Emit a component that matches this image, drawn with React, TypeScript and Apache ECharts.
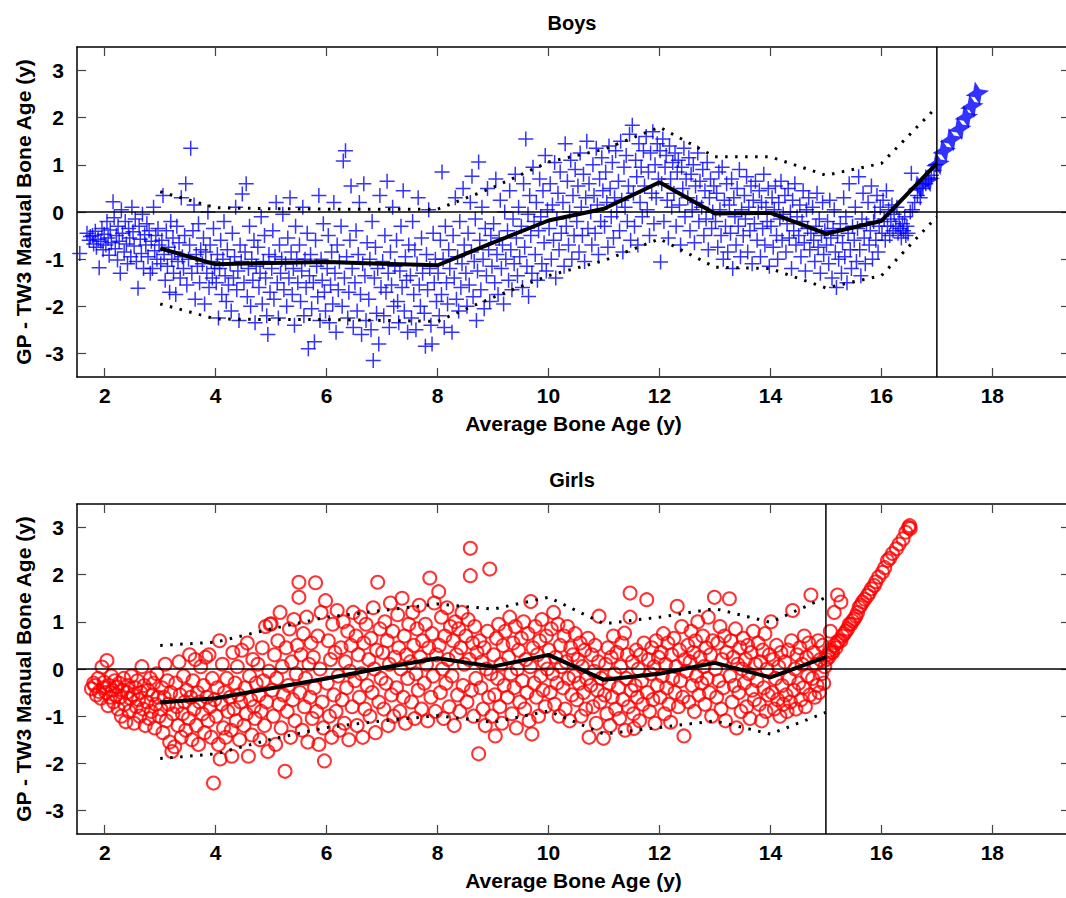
import React, { useEffect, useRef } from "react";
import * as echarts from "echarts";

const X_MIN = 1.5;
const X_MAX = 19.4;
const Y_MIN = -3.5;
const Y_MAX = 3.5;
const xTicks = [2, 4, 6, 8, 10, 12, 14, 16, 18];
const yTicks = [-3, -2, -1, 0, 1, 2, 3];

const panelTitles = ["Boys", "Girls"];
const xName = "Average Bone Age (y)";
const yName = "GP - TW3 Manual Bone Age (y)";

// reference lines
const boysCutoff = 17;
const girlsCutoff = 15;

// mean and bounds (boys)
const boysAges = [3, 4, 5, 6, 7, 8, 9, 10, 11, 12, 13, 14, 15, 16, 17];
const boysMean = [-0.77, -1.11, -1.08, -1.06, -1.1, -1.13, -0.65, -0.18, 0.07, 0.63, -0.03, -0.02, -0.46, -0.19, 1.03];
const boysUpper = [0.43, 0.09, 0.07, 0.06, 0.06, 0.06, 0.52, 1.06, 1.33, 1.8, 1.17, 1.17, 0.78, 1.03, 2.23];
const boysLower = [-1.95, -2.27, -2.28, -2.28, -2.3, -2.32, -1.81, -1.35, -1.03, -0.57, -1.17, -1.2, -1.61, -1.35, -0.1];

// mean and bounds (girls)
const girlsAges = [3, 4, 5, 6, 7, 8, 9, 10, 11, 12, 13, 14, 15];
const girlsMean = [-0.71, -0.62, -0.41, -0.2, 0.02, 0.23, 0.05, 0.3, -0.23, -0.1, 0.13, -0.18, 0.25];
const girlsUpper = [0.5, 0.57, 0.85, 1.1, 1.24, 1.38, 1.27, 1.52, 0.96, 1.1, 1.28, 0.99, 1.52];
const girlsLower = [-1.9, -1.8, -1.49, -1.24, -1.1, -0.99, -1.13, -0.89, -1.38, -1.24, -1.1, -1.38, -0.92];

const boysPts = [
  [1.55,-0.88],[1.68,-0.45],[1.72,-0.6],[1.74,-0.52],
  [1.78,-0.5],[1.8,-0.68],[1.83,-0.41],[1.85,-0.75],[1.88,-0.58],[1.9,-1.18],[1.93,-0.62],[1.95,-0.35],[1.97,-0.8],[1.99,-0.47],
  [2.02,-0.7],[2.04,-0.2],[2.06,-0.55],[2.08,-0.92],[2.1,-0.38],[2.12,-0.65],[2.15,0.22],[2.17,-0.12],[2.19,-0.78],[2.21,-0.5],[2.23,-1.02],[2.24,-0.3],
  [2.26,-0.62],[2.28,-1.3],[2.3,0.05],[2.32,-0.45],[2.35,-0.85],[2.37,-0.2],[2.39,-0.68],[2.41,-1.1],[2.43,-0.35],[2.45,-0.55],[2.47,-0.95],[2.49,0.1],
  [2.51,-0.42],[2.53,-0.72],[2.55,-0.15],[2.57,-1.05],[2.6,-1.62],[2.62,-0.3],[2.64,-0.58],[2.66,-0.88],[2.68,-0.05],[2.7,-1.2],[2.72,-0.48],[2.74,-0.7],
  [2.76,-0.25],[2.78,-0.95],[2.8,-0.4],[2.82,-1.3],[2.84,-0.62],[2.86,-1.2],[2.88,0.1],[2.9,-0.82],[2.92,-0.5],[2.94,-1.0],[2.96,-0.35],[2.98,-0.7],
  [3.01,-1.1],[3.03,-0.6],[3.05,0.35],[3.07,-0.9],[3.09,-1.45],[3.11,-0.4],[3.13,-1.15],[3.15,-0.75],[3.17,-1.7],[3.19,-0.2],[3.21,-1.0],[3.23,-0.55],[3.24,-1.3],
  [3.26,-0.85],[3.28,-1.75],[3.3,-0.3],[3.32,-1.05],[3.34,-0.65],[3.36,-1.4],[3.38,0.3],[3.4,-0.95],[3.42,-1.2],[3.44,-0.5],[3.46,0.6],[3.48,-1.55],
  [3.51,-1.0],[3.53,-0.7],[3.55,1.35],[3.57,-1.3],[3.59,-0.4],[3.61,0.15],[3.63,-1.85],[3.65,-0.9],[3.67,-1.15],[3.69,-0.25],[3.71,-1.5],[3.73,-0.8],
  [3.76,-1.1],[3.78,-0.55],[3.8,-1.95],[3.82,-0.85],[3.84,-1.3],[3.86,0.0],[3.88,-1.6],[3.9,-0.7],[3.92,-1.05],[3.94,-1.4],[3.96,-0.35],[3.98,-1.2],
  [4.01,-1.5],[4.03,-0.9],[4.05,-2.25],[4.07,-1.2],[4.09,-0.6],[4.11,-1.75],[4.13,-1.0],[4.15,-0.2],[4.17,-1.35],[4.19,-1.9],[4.21,-0.8],[4.23,-1.55],
  [4.26,-1.1],[4.28,-2.1],[4.3,-0.45],[4.32,-1.4],[4.34,-0.95],[4.36,0.1],[4.38,-1.65],[4.4,-1.25],[4.42,-2.3],[4.44,-0.7],[4.46,-1.05],[4.48,0.38],
  [4.51,-1.5],[4.53,-0.85],[4.55,0.6],[4.57,-1.8],[4.59,-1.2],[4.61,-0.3],[4.63,-2.0],[4.65,-1.0],[4.67,-1.45],[4.69,-0.6],[4.71,-2.35],[4.73,-1.15],
  [4.76,-0.75],[4.78,-1.6],[4.8,-1.3],[4.82,-0.1],[4.84,-1.95],[4.86,-1.05],[4.88,-0.5],[4.9,-1.4],[4.92,-2.2],[4.94,-2.6],[4.96,-0.9],[4.98,-1.7],
  [5.01,-1.2],[5.03,-0.4],[5.05,-1.85],[5.07,-0.95],[5.09,0.2],[5.11,-1.5],[5.13,-2.25],[5.15,-0.7],[5.17,-1.3],[5.19,-1.0],[5.21,-0.05],[5.23,-1.65],
  [5.26,-1.1],[5.28,-2.0],[5.3,-0.55],[5.32,-1.4],[5.34,0.3],[5.36,-0.85],[5.38,-1.75],[5.4,-1.2],[5.42,-2.4],[5.44,-0.3],[5.46,-1.0],[5.48,-1.5],
  [5.51,-0.7],[5.53,-1.9],[5.55,-1.25],[5.57,0.1],[5.59,-2.2],[5.61,-1.0],[5.63,-1.6],[5.65,-0.45],[5.67,-2.9],[5.69,-1.35],[5.71,-0.9],[5.73,-2.05],
  [5.76,-1.5],[5.78,-2.75],[5.8,-0.6],[5.82,-1.15],[5.84,-1.8],[5.86,0.35],[5.88,-2.3],[5.9,-1.0],[5.92,-1.45],[5.94,-0.25],[5.96,-1.7],[5.98,-2.1],
  [6.01,-1.2],[6.03,-0.5],[6.05,-2.35],[6.07,-1.55],[6.09,-0.85],[6.11,-1.95],[6.13,0.2],[6.15,-1.3],[6.17,-2.55],[6.19,-0.7],[6.21,-1.65],[6.23,-1.05],
  [6.26,-0.3],[6.28,-2.0],[6.3,1.08],[6.32,-1.4],[6.34,1.3],[6.36,-0.95],[6.38,-2.25],[6.4,-1.7],[6.42,-0.6],[6.44,0.55],[6.46,-1.2],[6.48,-2.45],
  [6.51,-1.5],[6.53,-0.4],[6.55,-2.1],[6.57,-0.9],[6.59,0.2],[6.61,-1.75],[6.63,-2.6],[6.65,-1.1],[6.67,0.6],[6.69,-1.35],[6.71,-2.3],[6.73,-0.65],
  [6.76,-1.85],[6.78,-1.0],[6.8,-2.5],[6.82,-0.2],[6.84,-3.15],[6.86,-1.4],[6.88,-0.75],[6.9,-2.15],[6.92,-1.2],[6.94,-2.8],[6.96,0.35],[6.98,-1.6],
  [7.01,-1.05],[7.03,-2.2],[7.05,-0.5],[7.07,-1.7],[7.09,0.65],[7.11,-1.3],[7.13,-2.45],[7.15,-0.85],[7.17,-1.55],[7.19,0.1],[7.21,-2.0],[7.23,-1.15],
  [7.26,-0.6],[7.28,-1.9],[7.3,-2.35],[7.32,-1.25],[7.34,-0.3],[7.36,-1.6],[7.38,0.45],[7.4,-2.1],[7.42,-0.95],[7.44,-1.45],[7.46,-2.55],[7.48,-0.7],
  [7.51,-1.35],[7.53,-2.25],[7.55,-0.2],[7.57,-1.75],[7.59,-0.8],[7.61,-2.5],[7.63,-1.1],[7.65,0.3],[7.67,-1.55],[7.69,-2.0],[7.71,-0.55],[7.73,-1.3],
  [7.76,-2.15],[7.78,-2.85],[7.8,-0.9],[7.82,-1.65],[7.84,0.05],[7.86,-1.2],[7.88,-2.4],[7.9,-2.8],[7.92,-0.45],[7.94,-1.5],[7.96,-1.0],[7.98,-1.9],
  [8.01,-1.3],[8.03,-2.2],[8.05,-0.6],[8.07,-1.75],[8.08,0.85],[8.1,-1.0],[8.12,-2.45],[8.14,-0.3],[8.16,-1.5],[8.18,-1.95],[8.2,-0.8],[8.22,-1.2],
  [8.26,-2.55],[8.28,-0.5],[8.3,-1.4],[8.32,0.3],[8.34,-1.85],[8.36,-0.95],[8.38,-2.1],[8.4,-0.2],[8.42,-1.6],[8.44,-1.1],[8.46,0.5],[8.48,-0.7],
  [8.51,-1.3],[8.53,-2.0],[8.55,-0.45],[8.57,-1.55],[8.59,0.2],[8.61,-0.85],[8.62,0.76],[8.64,-1.8],[8.66,-1.05],[8.68,-0.15],[8.7,-2.3],[8.72,-1.25],[8.74,1.06],
  [8.76,-0.6],[8.78,-1.65],[8.8,0.1],[8.82,-1.0],[8.84,-2.05],[8.86,-0.35],[8.88,-1.35],[8.9,0.5],[8.92,-0.8],[8.94,-1.9],[8.96,-0.5],[8.98,-1.15],
  [9.01,-0.25],[9.03,-1.5],[9.05,0.7],[9.07,-0.9],[9.09,-1.75],[9.11,-0.55],[9.13,0.25],[9.15,-1.2],[9.17,-0.7],[9.19,-1.95],[9.21,0.0],[9.23,-1.0],
  [9.26,-0.4],[9.28,-1.45],[9.3,0.45],[9.32,-0.8],[9.34,-1.65],[9.36,-0.15],[9.38,-1.1],[9.4,0.8],[9.42,-0.55],[9.44,-1.35],[9.46,0.1],[9.48,-0.95],
  [9.51,-0.3],[9.53,-1.6],[9.55,0.6],[9.57,-0.75],[9.59,1.55],[9.61,-1.15],[9.63,-0.05],[9.64,-1.79],[9.66,0.35],[9.68,-0.5],[9.7,-1.3],[9.72,0.95],[9.74,-0.2],
  [9.76,-0.9],[9.78,0.2],[9.8,-1.45],[9.82,-0.4],[9.84,0.7],[9.86,-0.1],[9.88,-1.1],[9.9,0.45],[9.92,-0.65],[9.94,1.2],[9.96,-1.25],[9.98,0.05],
  [10.01,-0.35],[10.03,0.6],[10.05,-1.0],[10.07,0.15],[10.09,-0.6],[10.11,1.05],[10.13,-1.4],[10.15,-0.15],[10.17,0.4],[10.19,-0.8],[10.21,0.85],[10.23,-0.45],
  [10.26,0.2],[10.28,-1.15],[10.3,1.45],[10.32,-0.3],[10.34,0.65],[10.36,-0.7],[10.38,0.0],[10.4,1.1],[10.42,-1.0],[10.44,0.35],[10.46,-0.5],[10.48,0.9],
  [10.51,-0.2],[10.53,0.55],[10.55,-0.85],[10.57,1.25],[10.59,0.1],[10.61,-0.5],[10.63,0.8],[10.65,-1.05],[10.67,0.3],[10.69,1.5],[10.71,-0.35],[10.73,0.6],
  [10.76,0.0],[10.78,-0.7],[10.8,1.0],[10.82,0.35],[10.84,-0.45],[10.86,1.35],[10.88,0.15],[10.9,-0.9],[10.92,0.7],[10.94,-0.2],[10.96,1.15],[10.98,0.45],
  [11.01,-0.3],[11.03,0.85],[11.05,0.2],[11.07,-0.75],[11.09,1.4],[11.11,0.5],[11.13,-0.1],[11.15,1.05],[11.17,-0.55],[11.19,0.3],[11.21,1.3],[11.23,0.0],
  [11.26,0.65],[11.28,-0.4],[11.3,1.5],[11.32,0.25],[11.34,-0.85],[11.36,0.95],[11.38,0.1],[11.4,1.2],[11.42,-0.2],[11.44,0.55],[11.46,1.65],[11.48,-0.6],
  [11.51,1.84],[11.53,0.4],[11.55,-0.3],[11.57,1.1],[11.59,0.75],[11.61,-0.7],[11.63,1.45],[11.65,0.2],[11.67,0.95],[11.69,-0.1],[11.71,1.3],[11.73,0.55],
  [11.76,1.6],[11.78,0.05],[11.8,0.85],[11.82,-0.5],[11.84,1.25],[11.86,0.4],[11.88,1.7],[11.9,-0.25],[11.92,1.0],[11.94,0.3],[11.96,1.45],[11.98,0.7],
  [12.01,1.3],[12.02,-1.06],[12.04,0.6],[12.06,1.55],[12.08,-0.2],[12.1,0.95],[12.12,1.2],[12.14,0.25],[12.16,-0.55],[12.18,1.4],[12.2,0.7],[12.22,0.1],[12.24,1.05],
  [12.26,0.4],[12.28,1.25],[12.3,-0.3],[12.32,0.85],[12.34,1.1],[12.36,0.15],[12.38,-0.7],[12.4,0.95],[12.42,0.5],[12.44,1.35],[12.46,-0.1],[12.48,0.7],
  [12.51,0.3],[12.53,1.15],[12.55,-0.4],[12.57,0.8],[12.59,0.05],[12.61,1.0],[12.63,-0.65],[12.65,0.55],[12.67,0.2],[12.69,1.25],[12.71,-0.2],[12.73,0.65],
  [12.76,0.1],[12.78,0.9],[12.8,-0.5],[12.82,0.45],[12.84,-0.15],[12.86,1.05],[12.88,-0.8],[12.9,0.3],[12.92,0.7],[12.94,-0.35],[12.96,0.0],[12.98,0.55],
  [13.01,-0.2],[13.03,0.4],[13.05,-0.75],[13.07,0.85],[13.09,0.05],[13.11,-0.5],[13.13,0.95],[13.15,-1.0],[13.17,0.25],[13.19,-0.3],[13.21,0.6],[13.23,-0.85],
  [13.26,0.15],[13.28,-0.45],[13.3,0.7],[13.32,-1.2],[13.34,0.3],[13.36,-0.1],[13.38,-0.7],[13.4,0.5],[13.42,-0.3],[13.44,0.9],[13.46,-0.95],[13.48,0.05],
  [13.51,-0.5],[13.53,0.35],[13.55,-0.15],[13.57,0.75],[13.59,-0.85],[13.61,0.1],[13.63,-0.4],[13.65,0.55],[13.67,-1.1],[13.69,0.25],[13.71,-0.25],[13.73,0.65],
  [13.76,-0.6],[13.78,0.0],[13.8,0.45],[13.82,-0.95],[13.84,0.2],[13.86,-0.35],[13.88,0.8],[13.9,-0.7],[13.92,0.1],[13.94,-0.2],[13.96,0.5],[13.98,-1.15],
  [14.01,-0.3],[14.03,0.3],[14.05,-0.75],[14.07,0.05],[14.09,0.55],[14.11,-0.5],[14.13,-1.0],[14.15,0.2],[14.17,-0.15],[14.19,0.65],[14.21,-0.6],[14.23,-0.05],
  [14.26,0.35],[14.28,-0.85],[14.3,-0.25],[14.32,0.5],[14.34,-0.55],[14.36,0.0],[14.38,-1.2],[14.4,0.25],[14.42,-0.4],[14.44,0.6],[14.46,-0.7],[14.48,-0.1],
  [14.51,-0.5],[14.53,0.15],[14.55,-0.95],[14.57,-0.2],[14.59,0.45],[14.61,-0.65],[14.63,-1.25],[14.65,0.05],[14.67,-0.35],[14.69,0.3],[14.71,-0.8],[14.73,-0.45],
  [14.76,0.1],[14.78,-0.6],[14.8,-1.05],[14.82,-0.3],[14.84,0.4],[14.86,-0.75],[14.88,-0.15],[14.9,-1.3],[14.92,-0.5],[14.94,0.2],[14.96,-0.9],[14.98,-0.4],
  [15.01,-0.7],[15.03,-0.2],[15.05,-1.1],[15.07,0.25],[15.09,-0.55],[15.11,-1.4],[15.13,-0.35],[15.15,0.05],[15.17,-0.85],[15.19,-1.6],[15.21,-0.5],[15.23,-1.0],
  [15.26,-0.25],[15.28,-1.3],[15.3,-0.65],[15.32,0.3],[15.34,-0.95],[15.36,-0.1],[15.38,-1.5],[15.4,-0.45],[15.42,0.6],[15.44,-0.8],[15.46,-1.2],[15.48,-0.3],
  [15.51,-0.6],[15.53,0.1],[15.55,-1.05],[15.57,-0.35],[15.59,0.75],[15.61,-0.8],[15.63,-1.35],[15.65,-0.15],[15.67,0.4],[15.69,-0.55],[15.71,-1.1],[15.73,-0.25],
  [15.76,0.2],[15.78,-0.7],[15.8,-0.4],[15.82,0.55],[15.84,-1.0],[15.86,-0.2],[15.88,0.0],[15.9,-0.6],[15.92,0.35],[15.94,-0.85],[15.96,-0.3],[15.98,0.1],
  [16.01,-0.45],[16.03,0.25],[16.05,-0.15],[16.07,-0.6],[16.09,0.45],[16.11,-0.3],[16.13,0.05],[16.15,-0.5],[16.17,-0.2],[16.19,0.15],[16.21,-0.4],[16.23,-0.05],
  [16.26,-0.3],[16.28,0.1],[16.3,-0.45],[16.32,-0.15],[16.34,-0.35],[16.36,-0.55],[16.38,-0.25],[16.4,-0.4],[16.42,-0.1],[16.44,-0.5],[16.46,-0.3],[16.48,-0.45],
  [16.52,0.0],[16.54,0.82],[16.56,0.05],[16.6,0.2],[16.65,0.35],[16.7,0.3],[16.75,0.5],[16.8,0.6],[16.85,0.7],[16.9,0.78],[16.95,0.88],[16.98,1.0]
];

// clustered (overlapping) boys points beyond the cut-off
const boysDense = [
  [16.68,0.53],[16.84,0.67],[17.02,1.03],[17.13,1.3],[17.26,1.54],[17.41,1.77],[17.53,2.02],[17.63,2.25],[17.73,2.52]
];

const girlsPts = [
  [1.76,-0.42],[1.8,-0.3],[1.82,-0.35],[1.85,-0.55],[1.88,-0.2],[1.9,-0.48],[1.93,-0.62],[1.95,0.04],[1.97,-0.4],[1.99,-0.28],
  [2.02,-0.5],[2.04,0.18],[2.06,-0.78],[2.08,-0.35],[2.1,-0.6],[2.12,-0.15],[2.14,-0.45],[2.16,-0.7],[2.18,-0.25],[2.2,-0.55],[2.22,-0.38],[2.24,-0.85],
  [2.26,-0.3],[2.28,-0.6],[2.3,-1.0],[2.32,-0.45],[2.34,-0.2],[2.36,-0.75],[2.38,-1.12],[2.4,-0.5],[2.42,-0.35],[2.44,-0.9],[2.46,-0.62],[2.48,-0.15],
  [2.51,-0.55],[2.53,-1.15],[2.55,-0.4],[2.57,-0.8],[2.59,-0.25],[2.61,-0.65],[2.63,-1.0],[2.65,-0.5],[2.67,0.05],[2.69,-0.85],[2.71,-0.35],[2.73,-1.2],
  [2.76,-0.7],[2.78,-0.45],[2.8,-1.05],[2.82,-0.2],[2.84,-0.9],[2.86,-0.55],[2.88,-0.3],[2.9,-1.25],[2.92,-0.75],[2.94,-0.1],[2.96,-0.6],[2.98,-1.0],
  [3.01,-0.85],[3.03,-0.4],[3.05,-1.35],[3.07,-0.6],[3.09,0.1],[3.11,-1.1],[3.13,-0.25],[3.15,-0.75],[3.17,-1.55],[3.19,-0.5],[3.21,-1.75],[3.23,-0.95],
  [3.26,-1.65],[3.28,-0.3],[3.3,-0.8],[3.32,-1.2],[3.34,0.15],[3.36,-0.55],[3.38,-1.45],[3.4,-0.95],[3.42,-0.15],[3.44,-0.7],[3.46,-1.3],[3.48,-0.45],
  [3.51,-1.05],[3.53,0.3],[3.55,-0.6],[3.57,-1.5],[3.59,-0.25],[3.61,-0.85],[3.63,0.2],[3.65,-1.2],[3.67,-0.5],[3.69,-1.6],[3.71,-0.7],[3.73,0.05],
  [3.76,-0.95],[3.78,-0.35],[3.8,-1.35],[3.82,0.25],[3.84,-0.6],[3.86,-1.1],[3.88,0.3],[3.9,-0.8],[3.92,-1.45],[3.94,-0.2],[3.96,-2.42],[3.98,-0.65],
  [4.01,-1.0],[4.03,-0.4],[4.05,-1.6],[4.07,0.6],[4.08,-1.91],[4.1,-0.75],[4.12,0.1],[4.14,-1.25],[4.16,-0.5],[4.18,-1.45],[4.2,-0.2],[4.22,-0.9],
  [4.26,-0.6],[4.28,-1.3],[4.29,-1.85],[4.31,0.35],[4.33,-0.85],[4.35,-0.3],[4.37,-1.1],[4.39,0.05],[4.41,-0.55],[4.43,-1.5],[4.45,-0.7],[4.47,0.4],
  [4.51,-1.2],[4.53,-0.4],[4.55,-0.95],[4.57,0.55],[4.59,-1.85],[4.61,-0.15],[4.63,-0.65],[4.65,-1.4],[4.67,0.2],[4.69,-0.8],[4.71,-1.05],[4.73,-0.3],
  [4.76,0.1],[4.78,-0.55],[4.8,-1.5],[4.82,-0.9],[4.84,0.45],[4.86,-0.25],[4.88,-1.2],[4.9,0.9],[4.92,-0.7],[4.94,-1.75],[4.96,-0.05],[4.98,0.95],
  [5.0,0.96],[5.02,-0.45],[5.04,-1.0],[5.06,0.3],[5.08,-1.6],[5.1,-0.2],[5.12,0.6],[5.14,-0.75],[5.16,1.2],[5.18,-1.25],[5.2,0.05],[5.22,-0.55],
  [5.25,-2.17],[5.27,0.45],[5.29,-0.9],[5.31,-0.35],[5.33,0.85],[5.35,-1.45],[5.37,0.15],[5.39,-0.65],[5.41,1.05],[5.43,-1.1],[5.45,-0.1],[5.47,0.5],
  [5.5,1.84],[5.5,1.52],[5.52,-0.5],[5.54,0.3],[5.56,-1.3],[5.58,0.75],[5.6,-0.8],[5.62,-0.2],[5.64,1.1],[5.66,-1.55],[5.68,0.1],[5.7,-0.6],[5.72,0.55],[5.74,-1.05],
  [5.76,0.25],[5.78,-0.4],[5.8,1.83],[5.82,-0.9],[5.84,0.7],[5.86,-1.6],[5.88,0.0],[5.9,1.2],[5.92,-0.7],[5.94,-1.25],[5.96,-1.95],[5.98,1.45],
  [6.01,-0.3],[6.03,0.6],[6.05,-1.0],[6.07,0.2],[6.09,-1.45],[6.11,0.95],[6.13,-0.55],[6.15,0.35],[6.17,-0.9],[6.19,1.24],[6.21,-0.15],[6.23,-1.3],
  [6.26,0.45],[6.28,-0.65],[6.3,1.0],[6.32,-1.15],[6.34,0.15],[6.36,-0.4],[6.38,0.8],[6.4,-1.5],[6.42,-0.05],[6.44,0.5],[6.46,-0.8],[6.48,1.2],
  [6.51,-0.25],[6.53,0.7],[6.55,-1.2],[6.57,0.3],[6.59,-0.6],[6.61,1.1],[6.63,-0.1],[6.65,-1.45],[6.67,0.55],[6.69,-0.85],[6.71,0.95],[6.73,-0.35],
  [6.76,0.2],[6.78,-1.0],[6.8,0.65],[6.82,-0.5],[6.84,1.3],[6.86,0.0],[6.88,-1.35],[6.9,0.4],[6.92,1.84],[6.94,-0.7],[6.96,0.85],[6.98,-0.2],
  [7.01,0.35],[7.03,-0.85],[7.05,1.0],[7.07,-0.3],[7.09,0.6],[7.11,-1.2],[7.13,0.1],[7.15,1.4],[7.17,-0.55],[7.19,0.8],[7.21,-1.0],[7.23,0.25],
  [7.26,-0.4],[7.28,1.15],[7.3,0.45],[7.32,-0.9],[7.34,0.0],[7.36,1.5],[7.38,-0.6],[7.4,0.7],[7.42,-1.15],[7.44,0.3],[7.46,-0.2],[7.48,0.95],
  [7.51,0.15],[7.53,-0.7],[7.55,1.2],[7.57,0.5],[7.59,-1.05],[7.61,-0.1],[7.63,0.85],[7.65,-0.45],[7.67,1.35],[7.69,0.25],[7.71,-0.85],[7.73,0.6],
  [7.76,-0.3],[7.78,0.95],[7.8,0.1],[7.82,-1.1],[7.84,0.45],[7.86,1.93],[7.88,-0.6],[7.9,0.75],[7.92,-0.15],[7.94,1.4],[7.96,-0.9],[7.98,0.3],
  [8.02,1.64],[8.03,0.5],[8.05,-0.5],[8.07,1.1],[8.09,0.0],[8.11,-1.05],[8.13,0.7],[8.15,-0.3],[8.17,1.3],[8.19,0.2],[8.21,-0.8],[8.23,0.9],
  [8.26,-0.15],[8.28,0.6],[8.3,-1.2],[8.32,1.0],[8.34,0.3],[8.36,-0.55],[8.38,0.85],[8.4,-0.9],[8.42,0.45],[8.44,1.2],[8.46,-0.35],[8.48,0.1],
  [8.51,0.7],[8.53,-0.7],[8.55,1.05],[8.57,0.2],[8.59,2.56],[8.59,1.98],[8.61,-0.45],[8.63,0.55],[8.65,-1.0],[8.67,0.9],[8.69,-0.2],[8.71,0.35],[8.74,-1.8],
  [8.76,0.6],[8.78,-0.4],[8.8,0.15],[8.82,-0.85],[8.84,0.45],[8.86,-1.2],[8.88,0.0],[8.9,0.8],[8.92,-0.6],[8.94,2.12],[8.96,-0.1],[8.98,-1.0],
  [9.01,0.3],[9.03,-0.55],[9.04,-1.42],[9.06,0.65],[9.08,-0.2],[9.1,0.95],[9.12,-0.8],[9.14,0.1],[9.16,-1.15],[9.18,0.5],[9.2,-0.35],[9.22,0.8],
  [9.26,-0.6],[9.28,0.25],[9.3,1.1],[9.32,-0.1],[9.34,-0.95],[9.36,0.55],[9.38,-0.4],[9.4,0.9],[9.42,-1.25],[9.44,0.0],[9.46,0.4],[9.48,-0.7],
  [9.51,0.65],[9.53,-0.25],[9.55,1.0],[9.57,-0.85],[9.59,0.2],[9.61,-0.5],[9.63,0.75],[9.65,-1.1],[9.67,0.05],[9.68,1.43],[9.7,-1.38],[9.72,0.45],[9.74,-0.3],
  [9.76,0.9],[9.78,-0.6],[9.8,0.3],[9.82,-1.0],[9.84,0.6],[9.86,-0.15],[9.88,1.05],[9.9,-0.45],[9.92,0.15],[9.94,-0.8],[9.96,0.7],[9.98,0.0],
  [10.01,0.4],[10.03,-0.5],[10.05,0.85],[10.07,-0.1],[10.09,1.2],[10.11,-0.75],[10.13,0.25],[10.15,-0.3],[10.17,0.95],[10.19,-1.0],[10.21,0.5],[10.23,0.05],
  [10.26,-0.4],[10.28,0.7],[10.3,-0.85],[10.32,0.15],[10.34,0.9],[10.36,-0.2],[10.38,-1.1],[10.4,0.45],[10.42,-0.55],[10.44,0.3],[10.46,-0.15],[10.48,0.75],
  [10.51,-0.65],[10.53,0.2],[10.55,-0.3],[10.57,0.55],[10.59,-1.0],[10.61,0.05],[10.63,-0.5],[10.65,0.4],[10.67,-0.85],[10.69,-0.2],[10.71,0.65],[10.73,-1.45],
  [10.76,-0.35],[10.78,0.3],[10.8,-0.8],[10.82,-0.05],[10.84,0.5],[10.86,-1.15],[10.88,-0.45],[10.9,0.15],[10.91,1.12],[10.93,-0.7],[10.95,-0.2],[10.99,-1.47],
  [11.01,-0.55],[11.03,0.1],[11.05,-0.95],[11.07,0.45],[11.09,-0.3],[11.11,-1.2],[11.13,0.25],[11.15,-0.6],[11.17,0.7],[11.19,-0.1],[11.21,-0.85],[11.23,0.35],
  [11.26,-0.4],[11.28,-1.05],[11.3,0.05],[11.32,0.55],[11.34,-0.65],[11.37,0.76],[11.38,-1.3],[11.4,-0.2],[11.42,0.3],[11.44,-0.8],[11.47,1.61],[11.47,1.1],[11.49,-0.45],
  [11.51,0.15],[11.53,-0.95],[11.54,-1.26],[11.56,-0.35],[11.58,0.4],[11.6,-0.6],[11.62,0.0],[11.64,-1.1],[11.66,0.3],[11.68,-0.25],[11.7,-0.75],[11.72,0.55],
  [11.77,1.47],[11.78,-0.5],[11.8,0.2],[11.82,-0.9],[11.84,-0.1],[11.86,0.45],[11.88,-0.65],[11.9,0.05],[11.92,-1.15],[11.94,0.6],[11.96,-0.35],[11.98,0.25],
  [12.01,-0.6],[12.03,0.35],[12.05,-0.15],[12.07,0.75],[12.09,-0.95],[12.11,0.1],[12.13,-0.4],[12.15,0.55],[12.17,-0.75],[12.2,-1.13],[12.22,0.3],[12.24,-0.2],
  [12.26,0.65],[12.28,-0.5],[12.3,0.05],[12.32,1.33],[12.34,-0.8],[12.36,0.4],[12.38,-0.25],[12.4,0.9],[12.42,-0.6],[12.44,-1.42],[12.46,0.2],[12.48,-0.05],
  [12.51,0.5],[12.53,-0.7],[12.55,0.15],[12.57,0.8],[12.59,-0.35],[12.61,0.35],[12.63,-0.9],[12.65,0.6],[12.67,-0.15],[12.69,1.0],[12.71,-0.55],[12.73,0.25],
  [12.76,-0.3],[12.78,0.7],[12.8,0.05],[12.82,-0.75],[12.84,0.45],[12.86,-0.2],[12.88,1.1],[12.9,-0.5],[12.92,0.3],[12.94,-1.0],[12.96,0.6],[12.99,1.52],
  [13.01,0.0],[13.03,-0.6],[13.05,0.55],[13.07,-0.25],[13.09,0.9],[13.11,-0.85],[13.13,0.2],[13.15,-0.4],[13.17,0.7],[13.19,-1.1],[13.21,0.35],[13.26,1.49],
  [13.27,-0.15],[13.29,0.6],[13.31,-0.7],[13.33,0.25],[13.35,-0.35],[13.37,0.85],[13.39,-1.25],[13.41,0.1],[13.43,-0.5],[13.45,0.45],[13.47,-0.9],[13.49,0.0],
  [13.51,0.65],[13.53,-0.3],[13.55,0.2],[13.57,-0.8],[13.59,0.5],[13.61,-0.1],[13.63,-1.05],[13.65,0.35],[13.67,-0.45],[13.69,0.8],[13.71,-0.65],[13.73,0.1],
  [13.76,-0.25],[13.78,0.55],[13.8,-0.75],[13.82,0.15],[13.84,-1.1],[13.86,0.4],[13.88,-0.4],[13.9,0.75],[13.92,-0.9],[13.94,0.0],[13.96,-0.55],[13.98,0.3],
  [14.01,1.0],[14.03,-0.5],[14.05,0.2],[14.07,-0.85],[14.09,-0.2],[14.11,0.5],[14.13,-0.65],[14.15,0.05],[14.17,-1.0],[14.19,0.35],[14.21,-0.35],[14.23,-0.75],
  [14.26,0.15],[14.28,-0.55],[14.3,-0.9],[14.32,0.4],[14.34,-0.2],[14.36,-0.7],[14.38,0.6],[14.4,1.24],[14.42,-0.45],[14.44,0.0],[14.46,-0.85],[14.48,0.3],
  [14.51,-0.3],[14.53,0.45],[14.55,-0.65],[14.57,0.1],[14.59,-0.4],[14.61,0.7],[14.63,-0.8],[14.65,0.25],[14.67,-0.15],[14.69,0.55],[14.71,-0.55],[14.73,1.57],
  [14.76,-0.2],[14.78,0.35],[14.8,-0.6],[14.82,0.1],[14.84,-0.35],[14.86,0.6],[14.88,-0.5],[14.9,0.2],[14.92,-0.1],[14.94,0.5],[14.96,-0.3],[14.98,0.05],
  [15.01,0.2],[15.03,0.3],[15.05,0.25],[15.07,0.4],[15.08,0.8],[15.1,0.35],[15.12,0.35],[15.15,1.2],[15.15,0.5],[15.18,0.45],[15.21,1.57],[15.2,0.55],[15.23,0.6],
  [15.27,1.42],[15.27,0.6],[15.3,0.7],[15.33,0.75],[15.36,0.8],[15.39,0.85],[15.42,0.95],[15.45,0.95],[15.48,1.02],[15.51,1.06],[15.54,1.12],[15.57,1.2],
  [15.6,1.31],[15.63,1.35],[15.66,1.42],[15.7,1.48],[15.75,1.56],[15.78,1.62],[15.82,1.7],[15.87,1.77],[15.9,1.85],[15.95,1.95],[16.02,2.05],[16.06,2.15],
  [16.11,2.3],[16.15,2.35],[16.2,2.45],[16.27,2.55],[16.32,2.65],[16.39,2.76],[16.44,2.9],[16.49,3.0],[16.51,3.04],[16.52,2.98]
];

const FONT = "Liberation Sans, Arial, Helvetica, sans-serif";
const PLUS = "path://M7,0L7,14M0,7L14,7";
const STAR = "path://M10,0L12.8,7.2L20,10L12.8,12.8L10,20L7.2,12.8L0,10L7.2,7.2Z";

const GRID_LEFT = 77;
const GRID_W = 993;
const GRID_H = 330;
const GRID_TOPS = [47, 504];

function pair(xs: number[], ys: number[]) {
  return xs.map((x, i) => [x, ys[i]]);
}

function xAxesFor(gridIndex: number) {
  const common = {
    type: "value" as const,
    gridIndex,
    min: X_MIN,
    max: X_MAX,
    splitLine: { show: false },
    axisLine: { show: true, onZero: false, lineStyle: { color: "#000", width: 1.5 } },
    axisTick: { show: true, inside: true, length: 9, customValues: xTicks, lineStyle: { color: "#444", width: 1.2 } },
  };
  return [
    {
      ...common,
      position: "bottom",
      axisLabel: { customValues: xTicks, color: "#000", fontWeight: "bold", fontSize: 21, fontFamily: FONT, margin: 8 },
      name: xName,
      nameLocation: "middle",
      nameGap: 36,
      nameTextStyle: { color: "#000", fontWeight: "bold", fontSize: 21, fontFamily: FONT },
    },
    { ...common, position: "top", axisLabel: { show: false } },
  ];
}

function yAxesFor(gridIndex: number) {
  const common = {
    type: "value" as const,
    gridIndex,
    min: Y_MIN,
    max: Y_MAX,
    splitLine: { show: false },
    axisLine: { show: true, onZero: false, lineStyle: { color: "#000", width: 1.5 } },
    axisTick: { show: true, inside: true, length: 9, customValues: yTicks, lineStyle: { color: "#444", width: 1.2 } },
  };
  return [
    {
      ...common,
      position: "left",
      axisLabel: { customValues: yTicks, color: "#000", fontWeight: "bold", fontSize: 21, fontFamily: FONT, margin: 13 },
      name: yName,
      nameLocation: "middle",
      nameGap: 41,
      nameTextStyle: { color: "#000", fontWeight: "bold", fontSize: 21, fontFamily: FONT },
    },
    { ...common, position: "right", axisLabel: { show: false } },
  ];
}

function lineSeries(ax: number, data: number[][], width: number, dotted: boolean) {
  return {
    type: "line",
    xAxisIndex: ax,
    yAxisIndex: ax,
    data,
    showSymbol: false,
    symbol: "none",
    silent: true,
    z: 5,
    lineStyle: dotted
      ? { color: "#000", width, type: [2.5, 7.5] }
      : { color: "#000", width },
  };
}

export default function App() {
  const ref = useRef<HTMLDivElement>(null);
  useEffect(() => {
    if (!ref.current) return;
    const chart = echarts.init(ref.current, undefined, { renderer: "svg" });
    const option = {
      animation: false,
      backgroundColor: "#fff",
      grid: GRID_TOPS.map((t) => ({
        left: GRID_LEFT,
        top: t,
        width: GRID_W,
        height: GRID_H,
        show: false,
        containLabel: false,
        outerBoundsMode: "none",
      })),
      graphic: GRID_TOPS.map((t, i) => ({
        type: "text",
        x: 572,
        y: t - 24,
        style: {
          text: panelTitles[i],
          fill: "#000",
          font: `bold 20px ${FONT}`,
          align: "center",
          verticalAlign: "middle",
        },
      })),
      xAxis: [...xAxesFor(0), ...xAxesFor(1)],
      yAxis: [...yAxesFor(0), ...yAxesFor(1)],
      series: [
        {
          type: "scatter",
          xAxisIndex: 0,
          yAxisIndex: 0,
          data: boysPts,
          symbol: PLUS,
          symbolSize: 15,
          silent: true,
          z: 2,
          itemStyle: { color: "rgba(0,0,0,0)", borderColor: "#0000ff", borderWidth: 1.5 },
        },
        {
          type: "scatter",
          xAxisIndex: 0,
          yAxisIndex: 0,
          data: boysDense,
          symbol: STAR,
          symbolSize: 24,
          symbolRotate: 12,
          silent: true,
          z: 2,
          itemStyle: { color: "#0000ff" },
        },
        {
          type: "scatter",
          xAxisIndex: 2,
          yAxisIndex: 2,
          data: girlsPts,
          symbol: "circle",
          symbolSize: 13,
          silent: true,
          z: 2,
          itemStyle: { color: "rgba(0,0,0,0)", borderColor: "#ff0000", borderWidth: 2 },
        },
        lineSeries(0, [[X_MIN, 0], [X_MAX, 0]], 1.5, false),
        lineSeries(0, [[boysCutoff, Y_MIN], [boysCutoff, Y_MAX]], 1.5, false),
        lineSeries(0, pair(boysAges, boysUpper), 3, true),
        lineSeries(0, pair(boysAges, boysLower), 3, true),
        lineSeries(0, pair(boysAges, boysMean), 4, false),
        lineSeries(2, [[X_MIN, 0], [X_MAX, 0]], 1.5, false),
        lineSeries(2, [[girlsCutoff, Y_MIN], [girlsCutoff, Y_MAX]], 1.5, false),
        lineSeries(2, pair(girlsAges, girlsUpper), 3, true),
        lineSeries(2, pair(girlsAges, girlsLower), 3, true),
        lineSeries(2, pair(girlsAges, girlsMean), 4, false),
      ],
    };
    chart.setOption(option as any);
    return () => chart.dispose();
  }, []);
  return (
    <div
      ref={ref}
      style={{ position: "absolute", left: 0, top: 0, width: 1066, height: 898, background: "#fff" }}
    />
  );
}
